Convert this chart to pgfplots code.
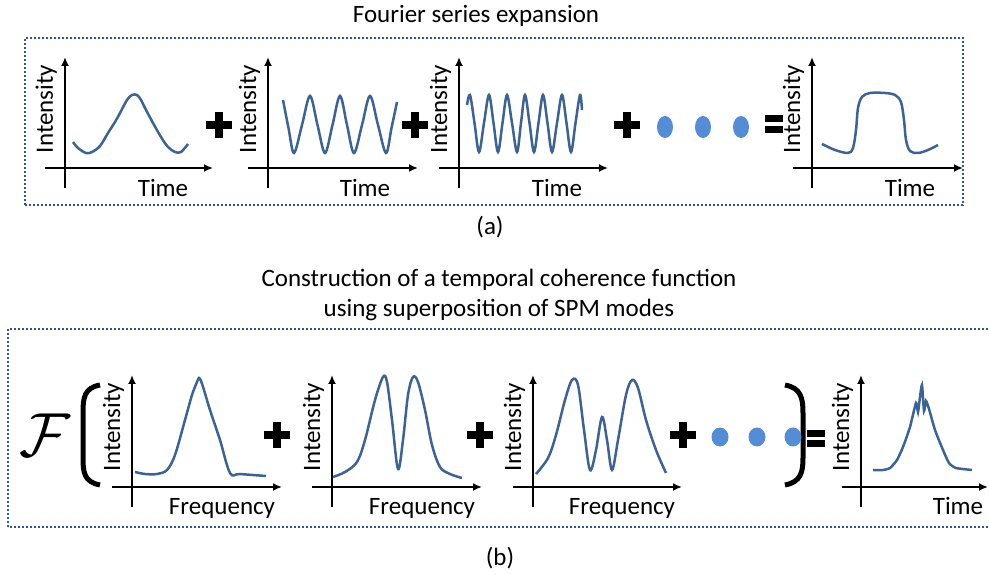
\documentclass[border=0pt]{standalone}
\usepackage{pgfplots}
\pgfplotsset{compat=1.18}
\usepackage{fontspec}
\setmainfont{Carlito}
\usetikzlibrary{arrows.meta}
\definecolor{curvec}{RGB}{61,99,148}
\definecolor{dotblue}{RGB}{84,140,214}
\definecolor{framec}{RGB}{47,85,151}
\newcommand\plus[1]{\begin{scope}[shift={#1}]\fill (-13,-4) rectangle (13,4); \fill (-4,-13) rectangle (4,13);\end{scope}}
\pgfplotsset{myplot/.style={color=curvec,line width=2.5pt,smooth,tension=0.55,mark=none}}
\begin{document}
\begin{tikzpicture}[x=1pt,y=1pt,font=\fontsize{25}{29}\selectfont]
\useasboundingbox (0,0) rectangle (989,575);
\pgfplotsset{mini/.style={x=1pt,y=1pt,axis lines=middle,ticks=none,clip=false,anchor=origin,
 xmin=-20,xmax=148,ymin=-20,ymax=111,
 every inner x axis line/.append style={line width=2pt,-{Latex[length=9pt,width=8pt]}},
 every inner y axis line/.append style={line width=2pt,-{Latex[length=9pt,width=8pt]}}}}
% frames
\draw[framec,line width=2pt,dash pattern=on 2pt off 2pt] (25,370) rectangle (963,537);
\draw[framec,line width=2pt,dash pattern=on 2pt off 2pt] (8,48) rectangle (1000,246);
% titles
\node[anchor=base] at (476,552) {Fourier series expansion};
\node at (490,348) {(a)};
\node[anchor=base] at (499,288) {Construction of a temporal coherence function};
\node[anchor=base] at (499,258) {using superposition of SPM modes};
\node at (500,17) {(b)};
% (a) panels
\begin{axis}[mini,at={(65,407)}]
\addplot[myplot] coordinates {(8,26) (13,20) (21,15) (27,16) (35,22) (43,35) (50,46) (55,55) (62,68) (67,73) (72,73) (76,68) (80,60) (88,45) (96,31) (103,21) (110,16) (116,16) (123,24)};
\node[rotate=90,anchor=base] at (axis cs:-12,59) {Intensity};
\node[anchor=base] at (axis cs:98,-29) {Time};
\end{axis}
\begin{axis}[mini,at={(268,407)},xmax=150]
\addplot[myplot] coordinates {(15,68) (20.5,40) (26,15) (34,43) (42,72) (49.5,43) (57,15) (64.5,43) (72,72) (79,43) (86,15) (94,43) (102,72) (110,43) (118,15) (123.5,40) (129,66)};
\node[rotate=90,anchor=base] at (axis cs:-12,59) {Intensity};
\node[anchor=base] at (axis cs:97,-29) {Time};
\end{axis}
\begin{axis}[mini,at={(459,407)},xmax=149]
\addplot[myplot] coordinates {(8,63) (11,73) (15.5,45) (20,16) (25,45) (30,73) (34.5,45) (39,16) (43.5,45) (48,73) (53,45) (58,16) (62,45) (66,73) (70.5,45) (75,16) (79.5,45) (84,73) (88.5,45) (93,16) (98,45) (103,73) (107.5,45) (112,16) (116.5,45) (121,73) (123,58)};
\node[rotate=90,anchor=base] at (axis cs:-12,59) {Intensity};
\node[anchor=base] at (axis cs:98,-29) {Time};
\end{axis}
\begin{axis}[mini,at={(812,407)},xmin=-19,xmax=151]
\addplot[myplot] coordinates {(10,24) (23,18) (36,15) (41,20) (44,38) (46,60) (50,71) (58,75) (73,75) (83,73) (89,66) (92,48) (94,28) (98,17) (106,15) (116,18) (126,23)};
\node[rotate=90,anchor=base] at (axis cs:-12,59) {Intensity};
\node[anchor=base] at (axis cs:98,-29) {Time};
\end{axis}
\plus{(219,450)} \plus{(415,450)} \plus{(627,450)}
\fill[dotblue] (665,448) ellipse [x radius=8,y radius=11];
\fill[dotblue] (703,448) ellipse [x radius=8,y radius=11];
\fill[dotblue] (741,448) ellipse [x radius=8,y radius=11];
\fill (765,453) rectangle (783,460); \fill (765,442) rectangle (783,449);
% (b) panels
\begin{axis}[mini,at={(132,88)},xmax=150,ymax=112]
\addplot[myplot] coordinates {(3,15) (13,13) (25,13) (35,17) (43,32) (53,67) (60,92) (65,105) (67,109) (69,106) (72,97) (78,77) (88,47) (98,14) (108,13) (134,11)};
\node[rotate=90,anchor=base] at (axis cs:-12,60) {Intensity};
\node[anchor=base] at (axis cs:90,-28) {Frequency};
\end{axis}
\begin{axis}[mini,at={(332,88)},xmax=150,ymax=112]
\addplot[myplot] coordinates {(1,10) (13,15) (25,25) (33,47) (43,87) (51,110) (55,105) (60,67) (66,18) (71,47) (76,92) (81,110) (86,105) (93,77) (100,42) (108,20) (118,13) (130,9)};
\node[rotate=90,anchor=base] at (axis cs:-12,60) {Intensity};
\node[anchor=base] at (axis cs:90,-28) {Frequency};
\end{axis}
\begin{axis}[mini,at={(533,88)},xmax=149,ymax=112]
\addplot[myplot] coordinates {(3,13) (15,29) (23,52) (32,87) (39,107) (45,102) (51,57) (57,17) (63,37) (69,70) (74,47) (79,17) (85,47) (93,92) (99,107) (105,99) (113,67) (123,37) (133,14)};
\node[rotate=90,anchor=base] at (axis cs:-12,60) {Intensity};
\node[anchor=base] at (axis cs:89,-28) {Frequency};
\end{axis}
\begin{axis}[mini,at={(861,88)},xmin=-19,xmax=127,ymax=112]
\addplot[myplot,tension=0.35] coordinates {(12,17) (22,17) (29,19) (36,27) (42,40) (49,60) (55,84) (57,75) (59,90) (61,102) (63,76) (65,86) (68,78) (74,57) (82,37) (88,24) (95,19) (111,17)};
\node[rotate=90,anchor=base] at (axis cs:-12,60) {Intensity};
\node[anchor=base] at (axis cs:97,-28) {Time};
\end{axis}
\node[scale=2.5] at (45,140) {$\mathcal{F}$};
\draw[line width=5pt] (100,190) .. controls (84,187) and (83,177) .. (83,162) -- (83,117) .. controls (83,103) and (84,93) .. (100,90);
\draw[line width=5pt] (785,190) .. controls (801,187) and (803,177) .. (803,162) -- (803,117) .. controls (803,103) and (801,93) .. (785,90);
\plus{(277,140)} \plus{(480,140)} \plus{(683,140)}
\fill[dotblue] (720,138) ellipse [x radius=8.5,y radius=9.5];
\fill[dotblue] (757,138) ellipse [x radius=8.5,y radius=9.5];
\fill[dotblue] (793,138) ellipse [x radius=8.5,y radius=9.5];
\fill (807,138) rectangle (825,145); \fill (807,128) rectangle (825,135);
\end{tikzpicture}
\end{document}
